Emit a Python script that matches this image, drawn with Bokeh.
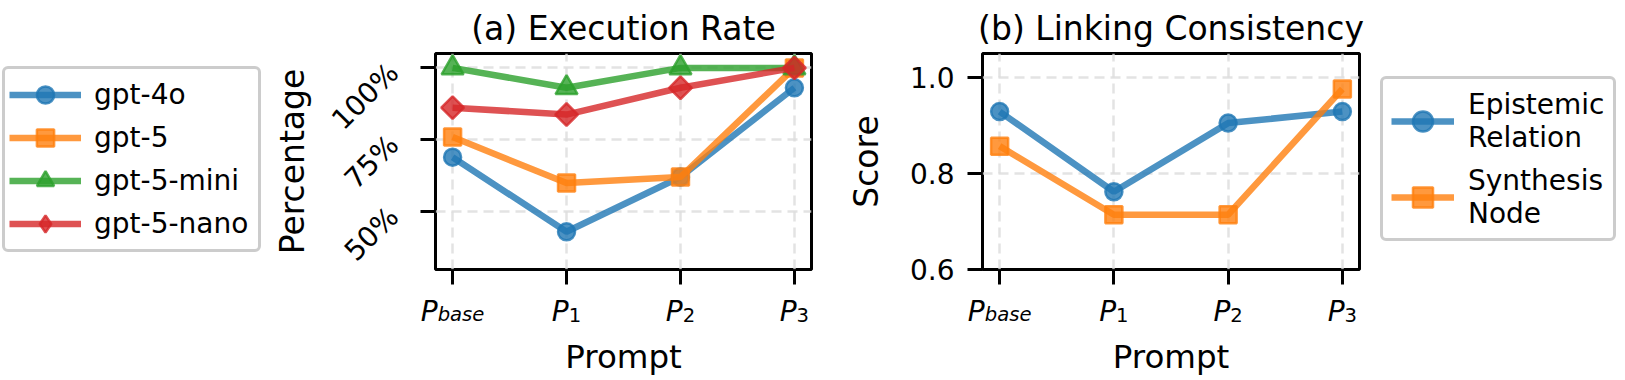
import math
from bokeh.plotting import figure
from bokeh.layouts import row, column
from bokeh.models import Legend, LegendItem, FixedTicker, Range1d, ColumnDataSource, Plot
from bokeh.core.properties import value, field
from bokeh.embed import file_html
from bokeh.resources import INLINE

# ---------------- data ----------------
prompts = [0, 1, 2, 3]
prompt_main = ["P", "P", "P", "P"]
prompt_sub = ["base", "1", "2", "3"]
x_label = "Prompt"

exec_models = ["gpt-4o", "gpt-5", "gpt-5-mini", "gpt-5-nano"]
exec_gpt4o = [69.0, 43.1, 62.1, 93.1]
exec_gpt5 = [76.0, 60.0, 62.1, 100.0]
exec_gpt5_mini = [100.0, 93.1, 100.0, 100.0]
exec_gpt5_nano = [86.2, 83.8, 93.1, 100.0]
exec_ticks = [50, 75, 100]
exec_tick_labels = ["50%", "75%", "100%"]

link_series = ["Epistemic\nRelation", "Synthesis\nNode"]
link_epistemic = [0.929, 0.762, 0.905, 0.929]
link_synthesis = [0.857, 0.714, 0.714, 0.976]
link_ticks = [0.6, 0.8, 1.0]
link_tick_labels = ["0.6", "0.8", "1.0"]

# ---------------- style / layout ----------------
FONT = "DejaVu Sans"
COLORS = ["#1f77b4", "#ff7f0e", "#2ca02c", "#d62728"]
# (plot marker, angle, size, legend marker)
MARKERS = [("circle", 0.0, 17, "circle"), ("square", 0.0, 17, "square"),
           ("triangle", 0.0, 22, "triangle"), ("square", math.pi / 4, 16, "diamond")]
ALPHA = 0.8
TOP = 51
FRAME_H = 216
TICK = 15
BOTTOM = 22
STRIP_H = 89
TOTAL_H = TOP + FRAME_H + BOTTOM + STRIP_H
X0, X1 = -0.15, 3.15
STRIP_PAD = 40
HAS_ALIGN = "frame_align" in Plot.properties()

CHAR_W = {"P": 0.603, "b": 0.635, "a": 0.613, "s": 0.521, "e": 0.615, "1": 0.636, "2": 0.636, "3": 0.636}
MAIN_PX = 28
SUB_PX = 19.6
# baselines inside the strip (px from its top)
Y_MAIN, Y_SUB, Y_LABEL = 20, 23.3, 65.7


def no_align(p):
    if HAS_ALIGN:
        p.frame_align = False
    return p


def make_fig(fw, y0, y1, ticks, tick_labels, y_label, title, min_left, min_right, rotate):
    p = figure(frame_width=fw, frame_height=FRAME_H,
               x_range=Range1d(X0, X1), y_range=Range1d(y0, y1),
               min_border_left=min_left, min_border_right=min_right,
               min_border_top=TOP, min_border_bottom=BOTTOM,
               output_backend="svg", toolbar_location=None, title=title)
    no_align(p)
    p.title.text_font = FONT
    p.title.text_font_size = "33px"
    p.title.text_font_style = "normal"
    p.title.text_color = "black"
    p.title.align = "center"
    p.title.standoff = 12
    p.outline_line_color = "black"
    p.outline_line_width = 3
    p.outline_line_alpha = 1
    p.background_fill_color = "white"
    p.border_fill_color = "white"

    p.xaxis.ticker = FixedTicker(ticks=prompts)
    p.xaxis.major_label_overrides = {t: "" for t in prompts}
    p.xaxis.major_label_text_font_size = "0px"
    p.xaxis.major_label_standoff = 0

    p.yaxis.ticker = FixedTicker(ticks=ticks)
    p.yaxis.major_label_overrides = {t: l for t, l in zip(ticks, tick_labels)}
    p.yaxis.major_label_text_font_size = "28px"
    p.yaxis.axis_label = y_label
    if rotate:
        p.yaxis.major_label_orientation = math.pi / 4
        p.yaxis.major_label_standoff = 27
        p.yaxis.axis_label_standoff = -1
    else:
        p.yaxis.major_label_standoff = 13
        p.yaxis.axis_label_standoff = 21

    for ax in (p.xaxis, p.yaxis):
        ax.axis_line_color = None
        ax.major_tick_out = TICK
        ax.major_tick_in = 0
        ax.major_tick_line_width = 3
        ax.major_tick_line_color = "black"
        ax.minor_tick_line_color = None
        ax.major_label_text_font = FONT
        ax.major_label_text_color = "black"
        ax.axis_label_text_font = FONT
        ax.axis_label_text_font_size = "33px"
        ax.axis_label_text_font_style = "normal"
        ax.axis_label_text_color = "black"

    for g in (p.xgrid, p.ygrid):
        g.grid_line_color = "#dcdcdc"
        g.grid_line_width = 2.5
        g.grid_line_dash = "10 6"
        g.grid_line_alpha = 0.8
    p.ygrid.ticker = FixedTicker(ticks=ticks)
    return p


def make_strip(fw, min_left, min_right):
    """Strip under a panel holding the sub-scripted tick labels and the x label (same x scale)."""
    ppu = fw / (X1 - X0)
    s = figure(frame_width=fw + STRIP_PAD, frame_height=STRIP_H,
               x_range=Range1d(X0 - STRIP_PAD / ppu, X1), y_range=Range1d(STRIP_H, 0),
               min_border_left=min_left - STRIP_PAD, min_border_right=min_right,
               min_border_top=0, min_border_bottom=0,
               x_axis_location=None, y_axis_location=None,
               output_backend="svg", toolbar_location=None)
    no_align(s)
    s.outline_line_color = None
    s.grid.visible = False
    s.background_fill_color = "white"
    s.border_fill_color = "white"

    wp = CHAR_W["P"] * MAIN_PX
    sub_w = [sum(CHAR_W[c] for c in sub) * SUB_PX for sub in prompt_sub]
    main_src = ColumnDataSource(dict(x=prompts, y=[Y_MAIN] * len(prompts), text=prompt_main,
                                     xo=[-w / 2 for w in sub_w]))
    s.text(x="x", y="y", text="text", x_offset="xo", source=main_src,
           text_align="center", text_baseline="alphabetic", text_color="black",
           text_font=value(FONT), text_font_size=value(f"{MAIN_PX}px"), text_font_style="italic")
    sub_src = ColumnDataSource(dict(x=prompts, y=[Y_SUB] * len(prompts), text=prompt_sub,
                                    xo=[wp / 2] * len(prompts),
                                    st=["normal" if t.isdigit() else "italic" for t in prompt_sub]))
    s.text(x="x", y="y", text="text", x_offset="xo", source=sub_src,
           text_align="center", text_baseline="alphabetic", text_color="black",
           text_font=value(FONT), text_font_size=value(f"{SUB_PX}px"), text_font_style=field("st"))
    s.text(x=[(X0 + X1) / 2], y=[Y_LABEL], text=[x_label],
           text_align="center", text_baseline="alphabetic", text_color="black",
           text_font=value(FONT), text_font_size=value("32.5px"))
    return s


def add_series(p, ys, k, marker_override=None, visible=True):
    color = COLORS[k]
    marker, angle, size, leg_marker = MARKERS[k]
    if marker_override is not None:
        marker, angle = marker_override, 0.0
    lr = p.line(prompts, ys, line_color=color, line_width=6.5, line_alpha=ALPHA, visible=visible)
    sr = p.scatter(prompts, ys, marker=marker, angle=angle, size=size,
                   fill_color=color, fill_alpha=ALPHA, line_color=color,
                   line_alpha=ALPHA, line_width=2.5, visible=visible)
    return [lr, sr]


def legend_fig(width, names, series, loc, **kw):
    """A figure that only shows the legend; its (hidden) renderers carry the series styling."""
    f = figure(width=width, height=TOTAL_H, x_range=Range1d(0, 1), y_range=Range1d(0, 1),
               min_border=0, x_axis_location=None, y_axis_location=None,
               output_backend="svg", toolbar_location=None)
    no_align(f)
    f.outline_line_color = None
    f.grid.visible = False
    f.background_fill_color = "white"
    f.border_fill_color = "white"
    items = []
    for k, (name, ys) in enumerate(zip(names, series)):
        items.append(LegendItem(label=name,
                                renderers=add_series(f, ys, k, marker_override=MARKERS[k][3], visible=False)))
    lg = Legend(items=items, location=loc, **kw)
    lg.label_text_font = FONT
    lg.label_text_font_size = "28px"
    lg.label_text_color = "black"
    lg.border_line_color = "#cccccc"
    lg.border_line_width = 3
    lg.border_line_alpha = 1
    lg.background_fill_color = "white"
    lg.background_fill_alpha = 1
    lg.inactive_fill_alpha = 0
    lg.margin = 0
    if "border_radius" in Legend.properties():
        lg.border_radius = 6
    f.add_layout(lg)
    return f, lg


exec_series = [exec_gpt4o, exec_gpt5, exec_gpt5_mini, exec_gpt5_nano]
link_values = [link_epistemic, link_synthesis]

# legend of (a)
leg_a, lega = legend_fig(264, exec_models, exec_series, (2, TOTAL_H - 252),
                         glyph_width=72, glyph_height=43, label_height=43, label_width=160,
                         label_standoff=13, spacing=0, padding=4)

# (a) Execution Rate
pa = make_fig(376, 30, 105, exec_ticks, exec_tick_labels, "Percentage", "(a) Execution Rate", 171, 5, True)
for k, ys in enumerate(exec_series):
    add_series(pa, ys, k)
sa = make_strip(376, 171, 5)

# (b) Linking Consistency
pb = make_fig(377, 0.6, 1.05, link_ticks, link_tick_labels, "Score", "(b) Linking Consistency", 166, 5, False)
for k, ys in enumerate(link_values):
    add_series(pb, ys, k)
sb = make_strip(377, 166, 5)

# legend of (b)
leg_b, legb = legend_fig(258, link_series, link_values, (16, TOTAL_H - 241),
                         glyph_width=63, glyph_height=50, label_height=67,
                         label_standoff=14, spacing=9, padding=8)
legb.label_text_line_height = 0.97

layout = row(leg_a, column(pa, sa), column(pb, sb), leg_b)
open("out.html", "w").write(file_html(layout, INLINE))
